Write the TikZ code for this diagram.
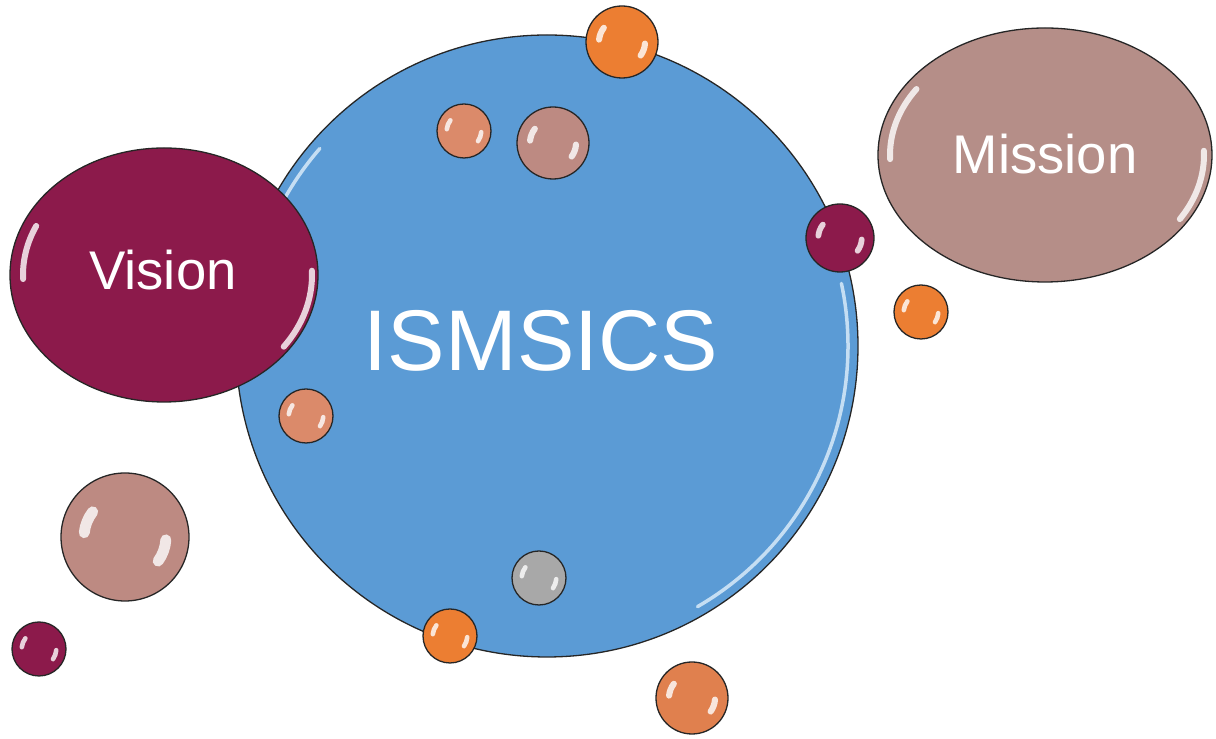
\documentclass[tikz,border=0pt]{standalone}
\usepackage{fontspec}
\setmainfont{Liberation Sans}
\usetikzlibrary{shapes.geometric}

\definecolor{coreblue}{HTML}{5B9BD5}
\definecolor{coreshine}{HTML}{C5DEF3}
\definecolor{wine}{HTML}{8C1A4B}
\definecolor{rosewood}{HTML}{B58E88}
\definecolor{mauve}{HTML}{BD8A82}
\definecolor{salmon}{HTML}{DB8A6A}
\definecolor{tangerine}{HTML}{EC7E32}
\definecolor{copper}{HTML}{E0804E}
\definecolor{pebble}{HTML}{A8A8A8}

\tikzset{
  bubble/.style={draw=black!85, line width=0.13mm, inner sep=0pt},
  shine/.style={white, opacity=0.8, line cap=round},
  caption/.style={text=white},
}

% glossy ball: name, centre, radius (px), colour
\newcommand\ball[4]{%
  \node[bubble, circle, fill=#4, minimum size={2*#3*0.1mm}] (#1) at (#2) {};
  \draw[shine, line width={#3*0.017mm}] (#1.center) ++(142:{#3*0.064mm})
    arc[start angle=142, end angle=174, radius={#3*0.064mm}];
  \draw[shine, line width={#3*0.017mm}] (#1.center) ++(-4:{#3*0.064mm})
    arc[start angle=-4, end angle=-36, radius={#3*0.064mm}];
}

\begin{document}
\begin{tikzpicture}[x=0.1mm, y=0.1mm]
  \useasboundingbox (0,0) rectangle (1216,-739);

  % the big circle
  \node[bubble, circle, fill=coreblue, minimum size=62.2mm] (core) at (547,-346) {};
  \draw[coreshine, line width=0.35mm, line cap=round] (core.center) ++(12:30.1mm)
    arc[start angle=12, end angle=-60, radius=30.1mm];
  \draw[coreshine, line width=0.35mm, line cap=round] (core.center) ++(139:30.1mm)
    arc[start angle=139, end angle=152, radius=30.1mm];
  \node[caption, font=\fontsize{24.5}{29}\selectfont] (title) at (541,-341) {ISMSICS};

  % vision
  \node[bubble, ellipse, fill=wine, minimum width=30.8mm, minimum height=25.4mm] (vision) at (164,-275) {};
  \draw[shine, line width=0.6mm] (vision.center) ++(155:14.1mm and 11.6mm)
    arc[start angle=155, end angle=182, x radius=14.1mm, y radius=11.6mm];
  \draw[shine, line width=0.6mm] (vision.center) ++(2:14.8mm and 12.2mm)
    arc[start angle=2, end angle=-36, x radius=14.8mm, y radius=12.2mm];
  \node[caption, font=\fontsize{15.5}{19}\selectfont] (visiontext) at (163,-270) {Vision};

  % mission
  \node[bubble, ellipse, fill=rosewood, minimum width=33.4mm, minimum height=25.4mm] (mission) at (1045,-155) {};
  \draw[shine, line width=0.6mm] (mission.center) ++(146:15.5mm and 11.8mm)
    arc[start angle=146, end angle=182, x radius=15.5mm, y radius=11.8mm];
  \draw[shine, line width=0.6mm] (mission.center) ++(2:15.9mm and 12.1mm)
    arc[start angle=2, end angle=-32, x radius=15.9mm, y radius=12.1mm];
  \node[caption, font=\fontsize{15.5}{19}\selectfont] (missiontext) at (1045,-154) {Mission};

  % small balls
  \ball{topball}{622,-42}{36}{tangerine}
  \ball{innerleft}{464,-131}{27}{salmon}
  \ball{innermid}{553,-143}{36}{mauve}
  \ball{rimright}{840,-238}{34}{wine}
  \ball{outright}{921,-312}{27}{tangerine}
  \ball{rimleft}{306,-416}{27}{salmon}
  \ball{farleft}{125,-537}{64}{mauve}
  \ball{corner}{39,-649}{27}{wine}
  \ball{grey}{539,-578}{27}{pebble}
  \ball{rimlow}{450,-636}{27}{tangerine}
  \ball{bottom}{692,-698}{36}{copper}
\end{tikzpicture}
\end{document}
